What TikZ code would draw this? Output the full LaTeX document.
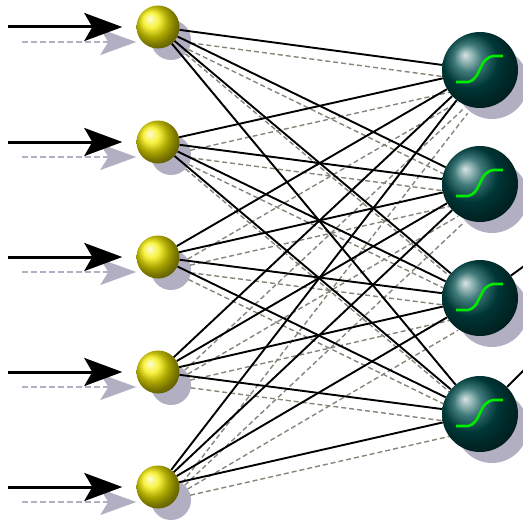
\documentclass[tikz,border=0pt]{standalone}
\usetikzlibrary{arrows.meta,calc,shadings}
\definecolor{inyellow}{RGB}{245,238,0}
\definecolor{outteal}{RGB}{0,78,78}
\definecolor{shadowc}{RGB}{178,175,195}
\definecolor{shadowl}{RGB}{135,132,120}
\definecolor{sigc}{RGB}{0,235,0}
\pgfdeclarelayer{shadowlayer}
\pgfdeclarelayer{linelayer}
\pgfsetlayers{shadowlayer,linelayer,main}
\begin{document}
\begin{tikzpicture}[x=1pt,y=-1pt,
  inball/.style={circle,minimum size=43pt,inner sep=0pt,ball color=inyellow},
  outball/.style={circle,minimum size=76pt,inner sep=0pt,ball color=outteal},
  conn/.style={black,line width=1.9pt},
  shadowline/.style={shadowl,line width=1.4pt,dash pattern=on 5pt off 3pt},
  inarrow/.style={black,line width=3pt,-{Stealth[length=38pt,width=28pt,inset=8pt]},shorten >=14pt},
  shadowarrow/.style={shadowc,line width=2pt,dash pattern=on 6pt off 3pt,-{Stealth[length=36pt,width=26pt,inset=8pt]},shorten >=14pt},
  sig/.style={sigc,line width=2.6pt,rounded corners=2pt}]
\useasboundingbox (0,0) rectangle (522,532);
\clip (0,0) rectangle (522,532);
% nodes
\foreach \i/\y in {1/27,2/142,3/257,4/372,5/487} {
  \node[inball] (i\i) at (158,\y) {};
  \coordinate (a\i) at (8,\y);
}
\foreach \j/\y in {1/70,2/184,3/298,4/414} {
  \node[outball] (o\j) at (480,\y) {};
  \draw[sig] ($(o\j)+(-24,12)$) -- ++(14,0) -- ++(6,-5) -- ++(8,-16) -- ++(7,-5) -- ++(12,0);
}
\coordinate (e3) at (560,240);
\coordinate (e4) at (560,334);
% shadows
\begin{pgfonlayer}{shadowlayer}
  \foreach \i in {1,...,5} {
    \fill[shadowc] ($(i\i)+(13,13)$) circle (20);
    \draw[shadowarrow,transform canvas={xshift=14pt,yshift=-15pt}] (a\i) -- (i\i);
  }
  \foreach \j in {1,...,4} {
    \fill[shadowc] ($(o\j)+(12,13)$) circle (36);
  }
  \foreach \i in {1,...,5} {
    \foreach \j in {1,...,4} {
      \draw[shadowline,transform canvas={xshift=11pt,yshift=-13pt}] (i\i) -- (o\j);
    }
  }
\end{pgfonlayer}
% connections
\begin{pgfonlayer}{linelayer}
  \foreach \i in {1,...,5} {
    \draw[inarrow] (a\i) -- (i\i);
    \foreach \j in {1,...,4} {
      \draw[conn] (i\i) -- (o\j);
    }
  }
  \draw[conn] (o3) -- (e3);
  \draw[conn] (o4) -- (e4);
\end{pgfonlayer}
\end{tikzpicture}
\end{document}
